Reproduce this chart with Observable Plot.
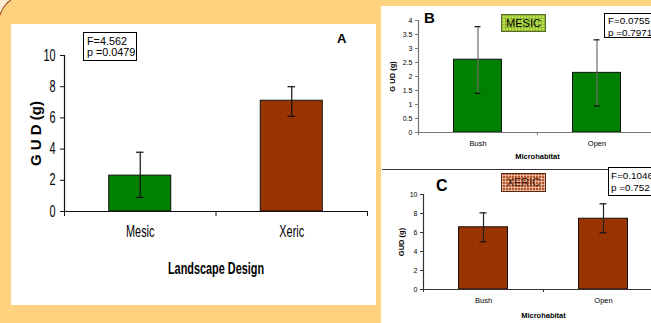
<!DOCTYPE html>
<html>
<head>
<meta charset="utf-8">
<script src="https://cdn.jsdelivr.net/npm/d3@7"></script>
<script src="https://cdn.jsdelivr.net/npm/@observablehq/plot@0.6"></script>
<style>
  html, body { margin: 0; padding: 0; background: #FCEBD0; }
  #stage { position: relative; width: 651px; height: 323px; overflow: hidden; background: #FCEBD0; font-family: "Liberation Sans", Arial, sans-serif; }
  .panel { position: absolute; background: #fff; overflow: hidden; }
  .ov { position: absolute; color: #000; white-space: nowrap; }
  .stat { border: 1px solid #000; background: #fff; box-sizing: border-box; padding-left: 4px; }
  .letter { font-weight: bold; }
  svg { max-width: none !important; }
</style>
</head>
<body>
<div id="stage">
  <div style="position:absolute;left:-2px;top:-6px;width:720px;height:400px;background:#FFD27F;border-left:1.5px solid #A0481C;border-top:1.5px solid #A0481C;border-top-left-radius:30px;"></div>
  <div id="pa" class="panel" style="left:11px;top:24px;width:365px;height:281px;"></div>
  <div id="pr" class="panel" style="left:381px;top:6px;width:270px;height:317px;">
    <div id="pb" style="position:absolute;left:0;top:0;width:280px;height:163px;"></div>
    <div style="position:absolute;left:1px;right:0;top:163px;height:1px;background:#333;"></div>
    <div id="pc" style="position:absolute;left:0;top:163px;width:290px;height:154px;"></div>
  </div>

  <div class="ov stat" style="left:83px;top:32px;width:54px;height:29px;font-size:10.8px;line-height:11px;padding-top:3px;padding-left:3px;">F=4.562<br>p =0.0479</div>
  <div class="ov letter" style="left:337px;top:31px;font-size:13px;">A</div>

  <div class="ov letter" style="left:424px;top:9px;font-size:15px;">B</div>
  <div class="ov" style="left:501px;top:14px;width:45px;height:18px;box-sizing:border-box;border:1px solid #5a6b2a;font-size:11px;line-height:16px;text-align:center;background-color:#B6E04A;background-image:repeating-linear-gradient(0deg, rgba(90,120,20,0.3) 0 1px, transparent 1px 3px),repeating-linear-gradient(90deg, rgba(90,120,20,0.3) 0 1px, transparent 1px 3px);">MESIC</div>
  <div class="ov stat" style="left:604px;top:13px;width:62px;height:25px;font-size:9.9px;line-height:11.5px;padding-top:1px;padding-left:3px;">F=0.0755<br>p =0.7971</div>

  <div class="ov letter" style="left:436px;top:177px;font-size:16px;">C</div>
  <div class="ov" style="left:501px;top:173px;width:45px;height:19px;box-sizing:border-box;border:1px solid #5a2a10;font-size:11px;line-height:17px;text-align:center;color:#3a1505;background-color:#B9572E;background-image:repeating-linear-gradient(0deg, rgba(255,235,220,0.55) 0 1px, transparent 1px 3px),repeating-linear-gradient(90deg, rgba(255,235,220,0.55) 0 1px, transparent 1px 3px);">XERIC</div>
  <div class="ov stat" style="left:608px;top:167px;width:62px;height:29px;font-size:9.9px;line-height:12px;padding-top:2px;padding-left:2px;">F=0.1046<br>p =0.752</div>
</div>

<script>
// ---- Data ----
const landscapeCats = ["Mesic", "Xeric"];
const landscapeMeans = [2.3, 7.1];
const landscapeLo = [0.9, 6.1];
const landscapeHi = [3.8, 8.0];

const microCats = ["Bush", "Open"];
const mesicMeans = [2.6, 2.13];
const mesicLo = [1.4, 0.95];
const mesicHi = [3.78, 3.31];

const xericMeans = [6.55, 7.45];
const xericLo = [5.02, 5.97];
const xericHi = [8.07, 9.02];

const yTicksA = [0, 2, 4, 6, 8, 10];
const yTicksB = [0, 0.5, 1, 1.5, 2, 2.5, 3, 3.5, 4];
const yTicksC = [0, 2, 4, 6, 8, 10];

// ---- Styles ----
const GREEN = "#008000";
const BROWN = "#993300";
const landscapeColor = {Mesic: GREEN, Xeric: BROWN};

function panel(cfg) {
  const rows = cfg.cats.map((c, i) => ({i, c, m: cfg.means[i], lo: cfg.lo[i], hi: cfg.hi[i]}));
  const n = cfg.cats.length;
  return Plot.plot({
    width: cfg.width,
    height: cfg.height,
    marginLeft: cfg.ml, marginRight: cfg.mr, marginTop: cfg.mt, marginBottom: cfg.mb,
    style: {fontFamily: cfg.font, fontSize: cfg.tickFont + "px", color: "#000", background: "transparent", overflow: "visible", maxWidth: "none"},
    x: {domain: [0, n], label: null},
    y: {domain: cfg.yDomain, label: null},
    color: {type: "identity"},
    marks: [
      Plot.rect(rows, {x1: "i", x2: d => d.i + 1, y1: 0, y2: "m", fill: cfg.fill, stroke: "#111", strokeWidth: 1, insetLeft: cfg.barInset, insetRight: cfg.barInset}),
      Plot.ruleX(rows, {x: d => d.i + 0.5, y1: "lo", y2: "hi", stroke: cfg.stem, strokeWidth: 1.2}),
      Plot.ruleY(rows, {x1: "i", x2: d => d.i + 1, y: "hi", insetLeft: cfg.capInset, insetRight: cfg.capInset, stroke: "#111", strokeWidth: 1.2}),
      Plot.ruleY(rows, {x1: "i", x2: d => d.i + 1, y: "lo", insetLeft: cfg.capInset, insetRight: cfg.capInset, stroke: "#111", strokeWidth: 1.2}),
      Plot.ruleY([0], {stroke: cfg.axis, strokeWidth: 1.2}),
      Plot.ruleX([0], {stroke: cfg.axis, strokeWidth: 1.2}),
      Plot.axisX({ticks: d3.range(n + 1), tickSize: cfg.xTick, tickFormat: () => "", stroke: cfg.axis, label: null}),
      Plot.axisX({ticks: rows.map(d => d.i + 0.5), tickSize: 0, tickPadding: cfg.xPad, tickFormat: v => cfg.cats[Math.floor(v)], fontSize: cfg.catFont, label: null}),
      Plot.axisY({ticks: cfg.yTicks, tickSize: cfg.yTick, tickPadding: cfg.yPad, tickFormat: d => String(d), stroke: cfg.axis, label: null}),
      Plot.text([cfg.xTitle], {frameAnchor: "bottom", dy: cfg.xTitleDy, lineAnchor: "middle", fontWeight: "bold", fontSize: cfg.titleFont}),
      Plot.text([cfg.yTitle], {frameAnchor: "left", dx: cfg.yTitleDx, rotate: -90, lineAnchor: "middle", textAnchor: "middle", fontWeight: "bold", fontSize: cfg.yTitleFont})
    ]
  });
}

// Condense text (the original uses a narrow typeface)
function condense(svg, factor, skip) {
  svg.querySelectorAll("text").forEach(t => {
    if (skip.includes(t.textContent)) return;
    const len = t.getComputedTextLength();
    if (len > 0) {
      t.setAttribute("textLength", (len * factor).toFixed(2));
      t.setAttribute("lengthAdjust", "spacingAndGlyphs");
    }
  });
}

const ARIAL = '"Liberation Sans", Arial, sans-serif';

const svgA = panel({
  cats: landscapeCats, means: landscapeMeans, lo: landscapeLo, hi: landscapeHi, fill: d => landscapeColor[d.c],
  width: 365, height: 281, ml: 53, mr: 9, mt: 31, mb: 94,
  yDomain: [0, 10], yTicks: yTicksA, font: ARIAL, tickFont: 16, catFont: 16,
  barInset: 44.75, capInset: 72, stem: "#111", axis: "#111",
  xTick: 5, xPad: 14, yTick: 4, yPad: 5,
  xTitle: "Landscape Design", xTitleDy: 57, titleFont: 16,
  yTitle: "G U D (g)", yTitleDx: -28, yTitleFont: 15
});
document.getElementById("pa").appendChild(svgA);
condense(svgA, 0.68, ["G U D (g)"]);

document.getElementById("pb").appendChild(panel({
  cats: microCats, means: mesicMeans, lo: mesicLo, hi: mesicHi, fill: () => GREEN,
  width: 280, height: 163, ml: 37, mr: 5, mt: 14, mb: 37,
  yDomain: [0, 4], yTicks: yTicksB, font: ARIAL, tickFont: 7, catFont: 7.5,
  barInset: 35.5, capInset: 56.5, stem: "#6a6a6a", axis: "#777",
  xTick: 3, xPad: 8, yTick: 3, yPad: 3,
  xTitle: "Microhabitat", xTitleDy: 24, titleFont: 7.5,
  yTitle: "G UD (g)", yTitleDx: -26, yTitleFont: 7.5
}));

document.getElementById("pc").appendChild(panel({
  cats: microCats, means: xericMeans, lo: xericLo, hi: xericHi, fill: () => BROWN,
  width: 290, height: 154, ml: 42, mr: 8, mt: 25, mb: 34,
  yDomain: [0, 10], yTicks: yTicksC, font: ARIAL, tickFont: 7, catFont: 7.5,
  barInset: 35.5, capInset: 56.5, stem: "#222", axis: "#333",
  xTick: 3, xPad: 8, yTick: 3, yPad: 3,
  xTitle: "Microhabitat", xTitleDy: 26, titleFont: 7.5,
  yTitle: "GUD (g)", yTitleDx: -22, yTitleFont: 7.5
}));
</script>
</body>
</html>
